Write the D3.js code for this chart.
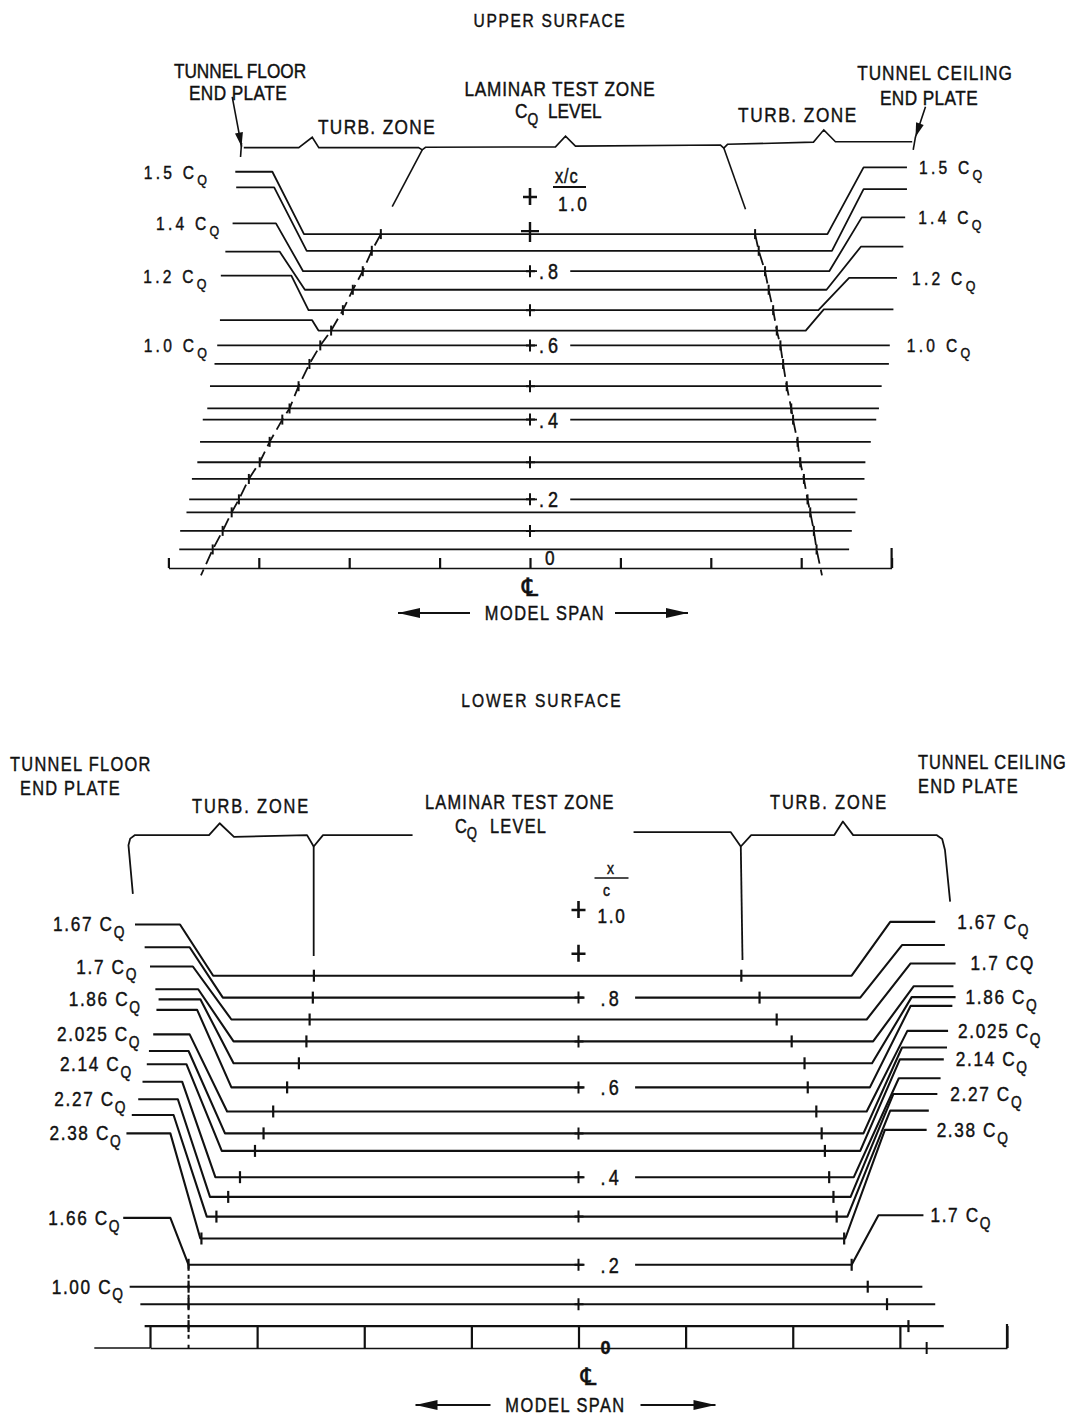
<!DOCTYPE html>
<html><head><meta charset="utf-8">
<script src="https://cdn.jsdelivr.net/npm/d3@7"></script>
<style>
body{margin:0;background:#fff}
svg text{font-family:'Liberation Sans',Arial,sans-serif;fill:#111;stroke:#111;stroke-width:0.45px}
</style></head><body>
<svg id="c" width="1071" height="1417"></svg>
<script>
// ===================== DATA =====================
// spanwise ticks (model span, arbitrary tick units, centre line = 0)
const spanTicks = [-4,-3,-2,-1,0,1,2,3,4];

// ---------- UPPER SURFACE ----------
// chordwise station (x/c) of every trace
const upperStations = [0.90,0.855,0.80,0.75,0.695,0.64,0.60,0.55,0.49,0.43,0.40,0.34,0.285,0.24,0.185,0.15,0.10,0.05];
const upperStart = [-3.26,-3.25,-3.29,-3.37,-3.42,-3.43,-3.46,-3.49,-3.54,-3.57,-3.62,-3.65,-3.68,-3.74,-3.77,-3.80,-3.87,-3.88];
const upperEnd   = [4.17,4.17,4.15,4.13,4.06,4.02,3.98,3.97,3.89,3.86,3.83,3.77,3.71,3.70,3.62,3.60,3.56,3.53];
// raised end segments (first six traces), levels in x/c units
const upperLeftLevel  = [1.068,1.026,0.929,0.853,0.788,0.668];
const upperLeftKnee1  = [-2.85,-2.83,-2.81,-2.77,-2.64,-2.41];
const upperLeftKnee2  = [-2.50,-2.47,-2.51,-2.49,-2.45,-2.34];
const upperRightKnee2 = [3.29,3.34,3.31,3.28,3.19,3.05];
const upperRightKnee1 = [3.69,3.69,3.67,3.66,3.53,3.25];
const upperRightLevel = [1.080,1.021,0.945,0.866,0.782,0.697];
// transition (turbulent wedge) crossings on each trace
const upperTransLeft  = [-1.65,-1.75,-1.85,-1.96,-2.07,-2.20,-2.32,-2.44,-2.56,-2.66,-2.74,-2.88,-2.99,-3.11,-3.22,-3.30,-3.40,-3.51];
const upperTransRight = [2.49,2.53,2.60,2.64,2.69,2.73,2.77,2.80,2.84,2.89,2.91,2.96,2.99,3.03,3.07,3.10,3.14,3.17];
const upperTransEnd = {xc:-0.02, left:-3.64, right:3.23};
const upperLeftLabels  = [{t:0,v:"1.5",gap:25},{t:2,v:"1.4",gap:10},{t:4,v:"1.2",gap:11},{t:6,v:"1.0",gap:7}];
const upperRightLabels = [{t:0,v:"1.5",gap:12},{t:2,v:"1.4",gap:13},{t:4,v:"1.2",gap:15},{t:6,v:"1.0",gap:17}];
const upperMarks = [{xc:0.9,lab:null,plus:true},{xc:0.8,lab:".8"},{xc:0.7,lab:null},{xc:0.6,lab:".6"},{xc:0.5,lab:null},{xc:0.4,lab:".4"},{xc:0.3,lab:null},{xc:0.2,lab:".2"},{xc:0.1,lab:null}];
const upperFloating = [1.0];
// bracket above upper panel  [span, level]
const upperBracket = [[-3.166,1.133],[-2.558,1.133],[-2.409,1.161],[-2.336,1.133],[-1.233,1.133],[-1.192,1.127],[-1.156,1.134],[0.282,1.135],[0.393,1.164],[0.503,1.137],[2.107,1.140],[2.144,1.132],[2.185,1.142],[3.136,1.148],[3.250,1.181],[3.379,1.149],[4.228,1.149]];
const upperWedgeLeft  = [[-1.192,1.127],[-1.524,0.974]];
const upperWedgeRight = [[2.144,1.132],[2.384,0.967]];
const upperPlateLeft  = {arrow:[[-3.294,1.270],[-3.191,1.136]], tick:[[-3.191,1.146],[-3.202,1.108]]};
const upperPlateRight = {arrow:[[4.375,1.243],[4.264,1.162]], tick:[[4.264,1.162],[4.239,1.127]]};

// ---------- LOWER SURFACE ----------
const lowerStations = [0.85,0.80,0.75,0.70,0.65,0.595,0.54,0.49,0.45,0.39,0.345,0.30,0.25,0.19,0.14,0.10,0.05];
const lowerStart = [-4.14,-4.05,-4.00,-3.95,-3.92,-3.94,-3.97,-4.01,-4.03,-4.07,-4.11,-4.17,-4.22,-4.25,-4.19,-4.09,-4.05];
const lowerEnd   = [3.33,3.42,3.52,3.50,3.52,3.49,3.45,3.44,3.41,3.38,3.35,3.27,3.25,3.22,3.21,3.33,3.41];
const lowerLeftLevel  = [0.967,0.915,0.871,0.819,0.796,0.772,0.716,0.678,0.648,0.608,0.568,0.532,0.490,0.297];
const lowerLeftKnee1  = [-3.72,-3.63,-3.60,-3.55,-3.53,-3.56,-3.63,-3.64,-3.66,-3.70,-3.74,-3.78,-3.81,-3.81];
const lowerLeftKnee2  = [-3.41,-3.32,-3.24,-3.22,-3.22,-3.24,-3.28,-3.30,-3.33,-3.39,-3.44,-3.47,-3.53,-3.64];
const lowerRightKnee2 = [2.55,2.63,2.69,2.75,2.74,2.72,2.69,2.66,2.63,2.57,2.54,2.51,2.49,2.55];
const lowerRightKnee1 = [2.91,3.02,3.10,3.13,3.11,3.10,3.07,3.02,3.00,2.99,2.94,2.91,2.86,2.80];
const lowerRightLevel = [0.973,0.920,0.878,0.826,0.801,0.781,0.724,0.686,0.659,0.616,0.580,0.542,0.498,0.303];
const lowerTransLeft  = [-2.47,-2.48,-2.51,-2.54,-2.61,-2.72,-2.85,-2.94,-3.02,-3.16,-3.27,-3.38,-3.52,-3.64,-3.64,-3.64,-3.64];
const lowerTransRight = [1.52,1.69,1.85,1.99,2.11,2.14,2.22,2.27,2.30,2.34,2.38,2.41,2.48,2.55,2.70,2.88,3.08];
const lowerTransAxisRight = 3.25;
const lowerLeftLabels  = [{t:0,v:"1.67",gap:9},{t:2,v:"1.7",gap:12},{t:4,v:"1.86",gap:17},{t:6,v:"2.025",gap:12},{t:8,v:"2.14",gap:14},{t:10,v:"2.27",gap:11},{t:12,v:"2.38",gap:4},{t:13,v:"1.66 ",gap:2},{t:14,v:"1.00",gap:5}];
const lowerRightLabels = [{t:0,v:"1.67",gap:22},{t:2,v:"1.7",plain:true,gap:15},{t:4,v:"1.86",gap:10},{t:6,v:"2.025",gap:10},{t:8,v:"2.14",gap:12},{t:10,v:"2.27",gap:13},{t:12,v:"2.38",gap:10},{t:13,v:"1.7",gap:7}];
const lowerMarks = [{xc:0.8,lab:".8"},{xc:0.7,lab:null},{xc:0.6,lab:".6"},{xc:0.5,lab:null},{xc:0.4,lab:".4"},{xc:0.3,lab:null},{xc:0.2,lab:".2"},{xc:0.1,lab:null}];
const lowerFloating = [1.0,0.9];
const lowerBracketLeft  = [[-4.160,1.037],[-4.201,1.148],[-4.185,1.163],[-4.140,1.171],[-3.449,1.171],[-3.350,1.198],[-3.216,1.167],[-2.534,1.171],[-2.472,1.145],[-2.385,1.171],[-1.549,1.171]];
const lowerBracketRight = [[0.514,1.178],[1.420,1.178],[1.515,1.145],[1.612,1.171],[2.388,1.171],[2.468,1.202],[2.564,1.171],[3.342,1.171],[3.395,1.162],[3.421,1.137],[3.469,1.019]];
const lowerWedgeLeft  = [[-2.472,1.145],[-2.472,0.895]];
const lowerWedgeRight = [[1.515,1.145],[1.531,0.886]];

// ===================== SCALES =====================
const svg = d3.select("#c");
const xU = d3.scaleLinear().domain([-4,4]).range([168.4,891.6]);
const yU = d3.scaleLinear().domain([0,1]).range([568,197]);
const xL = d3.scaleLinear().domain([-4,4]).range([150,1007]);
const yL = d3.scaleLinear().domain([0,1]).range([1348,910]);
const INK = "#111";
const NARROW = 0.82;   // condensed lettering

function txt(x,y,s,o={}){
  const g = svg.append("g").attr("transform",`translate(${x},${y}) scale(${o.sx||NARROW},1)`);
  const t = g.append("text").attr("x",0).attr("y",0).text(s)
    .attr("font-size",o.size||21).attr("text-anchor",o.anchor||"start");
  if(o.ls) t.attr("letter-spacing",o.ls);
  if(o.weight) t.attr("font-weight",o.weight);
  return t;
}
function cq(x,y,prefix,o={}){
  const size=o.size||21;
  const g = svg.append("g").attr("transform",`translate(${x},${y}) scale(${NARROW},1)`);
  const t = g.append("text").attr("x",0).attr("y",0).attr("font-size",size)
    .attr("text-anchor",o.anchor||"start").attr("letter-spacing",o.ls||0);
  t.append("tspan").text(prefix===""?"C":prefix+" C");
  if(o.plain) t.append("tspan").text("Q");
  else t.append("tspan").attr("dy",size*0.32).attr("font-size",size*0.8).text("Q");
  return t;
}
function arrowHead(tip, from, len, half){
  const dx=tip[0]-from[0], dy=tip[1]-from[1], L=Math.hypot(dx,dy), ux=dx/L, uy=dy/L;
  const bx=tip[0]-ux*len, by=tip[1]-uy*len;
  svg.append("path").attr("d",`M${tip[0]},${tip[1]}L${bx-uy*half},${by+ux*half}L${bx+uy*half},${by-ux*half}Z`).attr("fill",INK);
}

function drawPanel(P){
  const {x,y} = P;
  const line = d3.line().x(d=>x(d[0])).y(d=>y(d[1]));
  const g = svg.append("g");
  P.stations.forEach((st,i)=>{
    let pts;
    if(i < P.leftLevel.length){
      pts=[[P.start[i],P.leftLevel[i]],[P.leftKnee1[i],P.leftLevel[i]],[P.leftKnee2[i],st],
           [P.rightKnee2[i],st],[P.rightKnee1[i],P.rightLevel[i]],[P.end[i],P.rightLevel[i]]];
    } else pts=[[P.start[i],st],[P.end[i],st]];
    g.append("path").attr("d",line(pts)).attr("fill","none").attr("stroke",INK)
      .attr("stroke-width",P.traceW).attr("stroke-linejoin","round");
  });
  const ax = d3.axisTop(x).tickValues(spanTicks).tickSize(P.tickLen).tickSizeOuter(0).tickFormat("");
  const ag = g.append("g").attr("transform",`translate(0,${y(0)})`).call(ax);
  ag.selectAll("line").attr("stroke",INK).attr("stroke-width",2.2);
  ag.select(".domain").attr("stroke",INK).attr("stroke-width",1.6);
  g.append("line").attr("x1",x(4)).attr("x2",x(4)).attr("y1",y(0)).attr("y2",y(0)-P.endBar)
    .attr("stroke",INK).attr("stroke-width",2.2);
  const snap = v => P.stations.reduce((a,b)=>Math.abs(b-v)<Math.abs(a-v)?b:a);
  P.marks.forEach(m=>{
    const yy=y(snap(m.xc)), cx=x(0);
    if(m.lab){
      const t = txt(cx+P.labDx, yy+8, m.lab, {size:22, ls:P.labLs});
      const b = t.node().getBoundingClientRect();
      g.append("rect").attr("x",cx+P.gapStart).attr("y",yy-4).attr("width",b.right+P.gapEnd-(cx+P.gapStart)).attr("height",8).attr("fill","#fff");
    }
    if(m.plus){
      g.append("path").attr("d",`M${cx-9},${yy-3}H${cx+9}M${cx},${yy-12}V${yy+8}`).attr("stroke",INK).attr("stroke-width",2.4);
    } else {
      g.append("path").attr("d",`M${cx},${yy-6}V${yy+6}M${cx-4},${yy}H${cx+5}`).attr("stroke",INK).attr("stroke-width",2);
    }
  });
  P.floating.forEach(v=>{
    const yy=y(v), cx=x(0);
    g.append("path").attr("d",`M${cx-7},${yy}H${cx+7}M${cx},${yy-9}V${yy+8}`).attr("stroke",INK).attr("stroke-width",2.6);
  });
  return {g,line};
}

// ===================== UPPER PANEL =====================
const U = drawPanel({x:xU,y:yU,stations:upperStations,start:upperStart,end:upperEnd,
  leftLevel:upperLeftLevel,leftKnee1:upperLeftKnee1,leftKnee2:upperLeftKnee2,
  rightKnee2:upperRightKnee2,rightKnee1:upperRightKnee1,rightLevel:upperRightLevel,
  marks:upperMarks,floating:upperFloating,traceW:1.8,tickLen:10,endBar:20,labDx:9,labLs:5,gapStart:7,gapEnd:8});
{
  const line=U.line, g=U.g;
  const lp = upperStations.map((s,i)=>[upperTransLeft[i],s]).concat([[upperTransEnd.left,upperTransEnd.xc]]);
  const rp = upperStations.map((s,i)=>[upperTransRight[i],s]).concat([[upperTransEnd.right,upperTransEnd.xc]]);
  [lp,rp].forEach(p=>g.append("path").attr("d",line(p)).attr("fill","none").attr("stroke",INK).attr("stroke-width",1.8).attr("stroke-dasharray","13,6"));
  upperStations.forEach((s,i)=>{
    [upperTransLeft[i],upperTransRight[i]].forEach(v=>g.append("line").attr("x1",xU(v)).attr("x2",xU(v)).attr("y1",yU(s)-5).attr("y2",yU(s)+5).attr("stroke",INK).attr("stroke-width",2));
  });
  [upperWedgeLeft,upperWedgeRight,upperBracket,upperPlateLeft.arrow,upperPlateLeft.tick,upperPlateRight.arrow,upperPlateRight.tick]
    .forEach(p=>g.append("path").attr("d",line(p)).attr("fill","none").attr("stroke",INK).attr("stroke-width",1.6));
  [upperPlateLeft.arrow,upperPlateRight.arrow].forEach(p=>arrowHead([xU(p[1][0]),yU(p[1][1])],[xU(p[0][0]),yU(p[0][1])],14,4));
  upperLeftLabels.forEach(d=>{
    const lv = d.t<upperLeftLevel.length?upperLeftLevel[d.t]:upperStations[d.t];
    cq(xU(upperStart[d.t])-d.gap, yU(lv)+7, d.v, {size:19, ls:4, anchor:"end"});
  });
  upperRightLabels.forEach(d=>{
    const lv = d.t<upperRightLevel.length?upperRightLevel[d.t]:upperStations[d.t];
    cq(xU(upperEnd[d.t])+d.gap, yU(lv)+7, d.v, {size:19, ls:4});
  });
  const cx=xU(0);
  txt(cx+25,183,"x/c",{size:20,ls:1});
  g.append("line").attr("x1",cx+23).attr("x2",cx+56).attr("y1",yU(1)-10).attr("y2",yU(1)-10).attr("stroke",INK).attr("stroke-width",2);
  txt(cx+28,211,"1.0",{size:21,ls:3});
  txt(cx+15,yU(0)-3,"0",{size:21});
  txt(cx,596,"\u2104",{size:25,anchor:"middle",sx:1}).style("font-family","'DejaVu Sans',sans-serif");
  txt(cx+15,620,"MODEL SPAN",{size:20,anchor:"middle",ls:1.8});
  [[cx-60,cx-132],[cx+85,cx+158]].forEach(([a,b])=>{
    g.append("line").attr("x1",a).attr("x2",b).attr("y1",613).attr("y2",613).attr("stroke",INK).attr("stroke-width",1.8);
    arrowHead([b,613],[a,613],22,5);
  });
  txt(550,27,"UPPER SURFACE",{size:19,anchor:"middle",ls:2});
  txt(240,78,"TUNNEL FLOOR",{size:21,anchor:"middle"});
  txt(238,100,"END PLATE",{size:21,anchor:"middle",ls:0.5});
  txt(377,134,"TURB. ZONE",{size:21,anchor:"middle",ls:1.7});
  txt(560,96,"LAMINAR TEST ZONE",{size:21,anchor:"middle",ls:1});
  cq(515,118,"",{size:21});
  txt(548,118,"LEVEL",{size:21});
  txt(798,122,"TURB. ZONE",{size:21,anchor:"middle",ls:1.9});
  txt(935,80,"TUNNEL CEILING",{size:21,anchor:"middle",ls:1.2});
  txt(929,105,"END PLATE",{size:21,anchor:"middle",ls:0.5});
}

// ===================== LOWER PANEL =====================
const L = drawPanel({x:xL,y:yL,stations:lowerStations,start:lowerStart,end:lowerEnd,
  leftLevel:lowerLeftLevel,leftKnee1:lowerLeftKnee1,leftKnee2:lowerLeftKnee2,
  rightKnee2:lowerRightKnee2,rightKnee1:lowerRightKnee1,rightLevel:lowerRightLevel,
  marks:lowerMarks,floating:lowerFloating,traceW:2.1,tickLen:22,endBar:24,labDx:22,labLs:4,gapStart:6,gapEnd:13});
{
  const line=L.line, g=L.g;
  g.append("line").attr("x1",xL(-4.52)).attr("x2",xL(-4)).attr("y1",yL(0)).attr("y2",yL(0)).attr("stroke",INK).attr("stroke-width",1.6);
  lowerStations.forEach((s,i)=>{
    [lowerTransLeft[i],lowerTransRight[i]].forEach(v=>g.append("line").attr("x1",xL(v)).attr("x2",xL(v)).attr("y1",yL(s)-6).attr("y2",yL(s)+6).attr("stroke",INK).attr("stroke-width",2.2));
  });
  g.append("line").attr("x1",xL(lowerTransAxisRight)).attr("x2",xL(lowerTransAxisRight)).attr("y1",yL(0)-6).attr("y2",yL(0)+6).attr("stroke",INK).attr("stroke-width",2);
  g.append("line").attr("x1",xL(-3.64)).attr("x2",xL(-3.64)).attr("y1",yL(0.19)).attr("y2",yL(-0.01))
    .attr("stroke",INK).attr("stroke-width",2).attr("stroke-dasharray","4,6");
  [lowerBracketLeft,lowerBracketRight,lowerWedgeLeft,lowerWedgeRight]
    .forEach(p=>g.append("path").attr("d",line(p)).attr("fill","none").attr("stroke",INK).attr("stroke-width",1.8).attr("stroke-linejoin","round"));
  lowerLeftLabels.forEach(d=>{
    const lv = d.t<lowerLeftLevel.length?lowerLeftLevel[d.t]:lowerStations[d.t];
    cq(xL(lowerStart[d.t])-d.gap, yL(lv)+7, d.v, {size:21, ls:2, anchor:"end"});
  });
  lowerRightLabels.forEach(d=>{
    const lv = d.t<lowerRightLevel.length?lowerRightLevel[d.t]:lowerStations[d.t];
    cq(xL(lowerEnd[d.t])+d.gap, yL(lv)+7, d.v, {size:21, ls:2, plain:d.plain});
  });
  const cx=xL(0);
  txt(cx+32,874,"x",{size:17,anchor:"middle"});
  g.append("line").attr("x1",cx+16).attr("x2",cx+50).attr("y1",878).attr("y2",878).attr("stroke",INK).attr("stroke-width",1.6);
  txt(cx+28,896,"c",{size:17,anchor:"middle"});
  txt(cx+19,923,"1.0",{size:21,ls:2});
  txt(cx+27,yL(0)+6,"0",{size:18,anchor:"middle",weight:"bold",sx:1});
  txt(cx+10,1385,"\u2104",{size:24,anchor:"middle",sx:1}).style("font-family","'DejaVu Sans',sans-serif");
  txt(cx-13,1412,"MODEL SPAN",{size:20,anchor:"middle",ls:1.8});
  [[cx-88,cx-163],[cx+62,cx+137]].forEach(([a,b])=>{
    g.append("line").attr("x1",a).attr("x2",b).attr("y1",1405).attr("y2",1405).attr("stroke",INK).attr("stroke-width",1.8);
    arrowHead([b,1405],[a,1405],22,5);
  });
  txt(542,707,"LOWER SURFACE",{size:19,anchor:"middle",ls:2.5});
  txt(10,771,"TUNNEL  FLOOR",{size:20,ls:1.6});
  txt(20,795,"END  PLATE",{size:20,ls:1.5});
  txt(192,813,"TURB.  ZONE",{size:20,ls:2.3});
  txt(425,809,"LAMINAR TEST ZONE",{size:20,ls:1.5});
  cq(455,833,"",{size:20});
  txt(490,833,"LEVEL",{size:20,ls:1.5});
  txt(770,809,"TURB.  ZONE",{size:20,ls:2.3});
  txt(918,769,"TUNNEL CEILING",{size:20,ls:1.2});
  txt(918,793,"END  PLATE",{size:20,ls:1.5});
}
</script>
</body></html>
